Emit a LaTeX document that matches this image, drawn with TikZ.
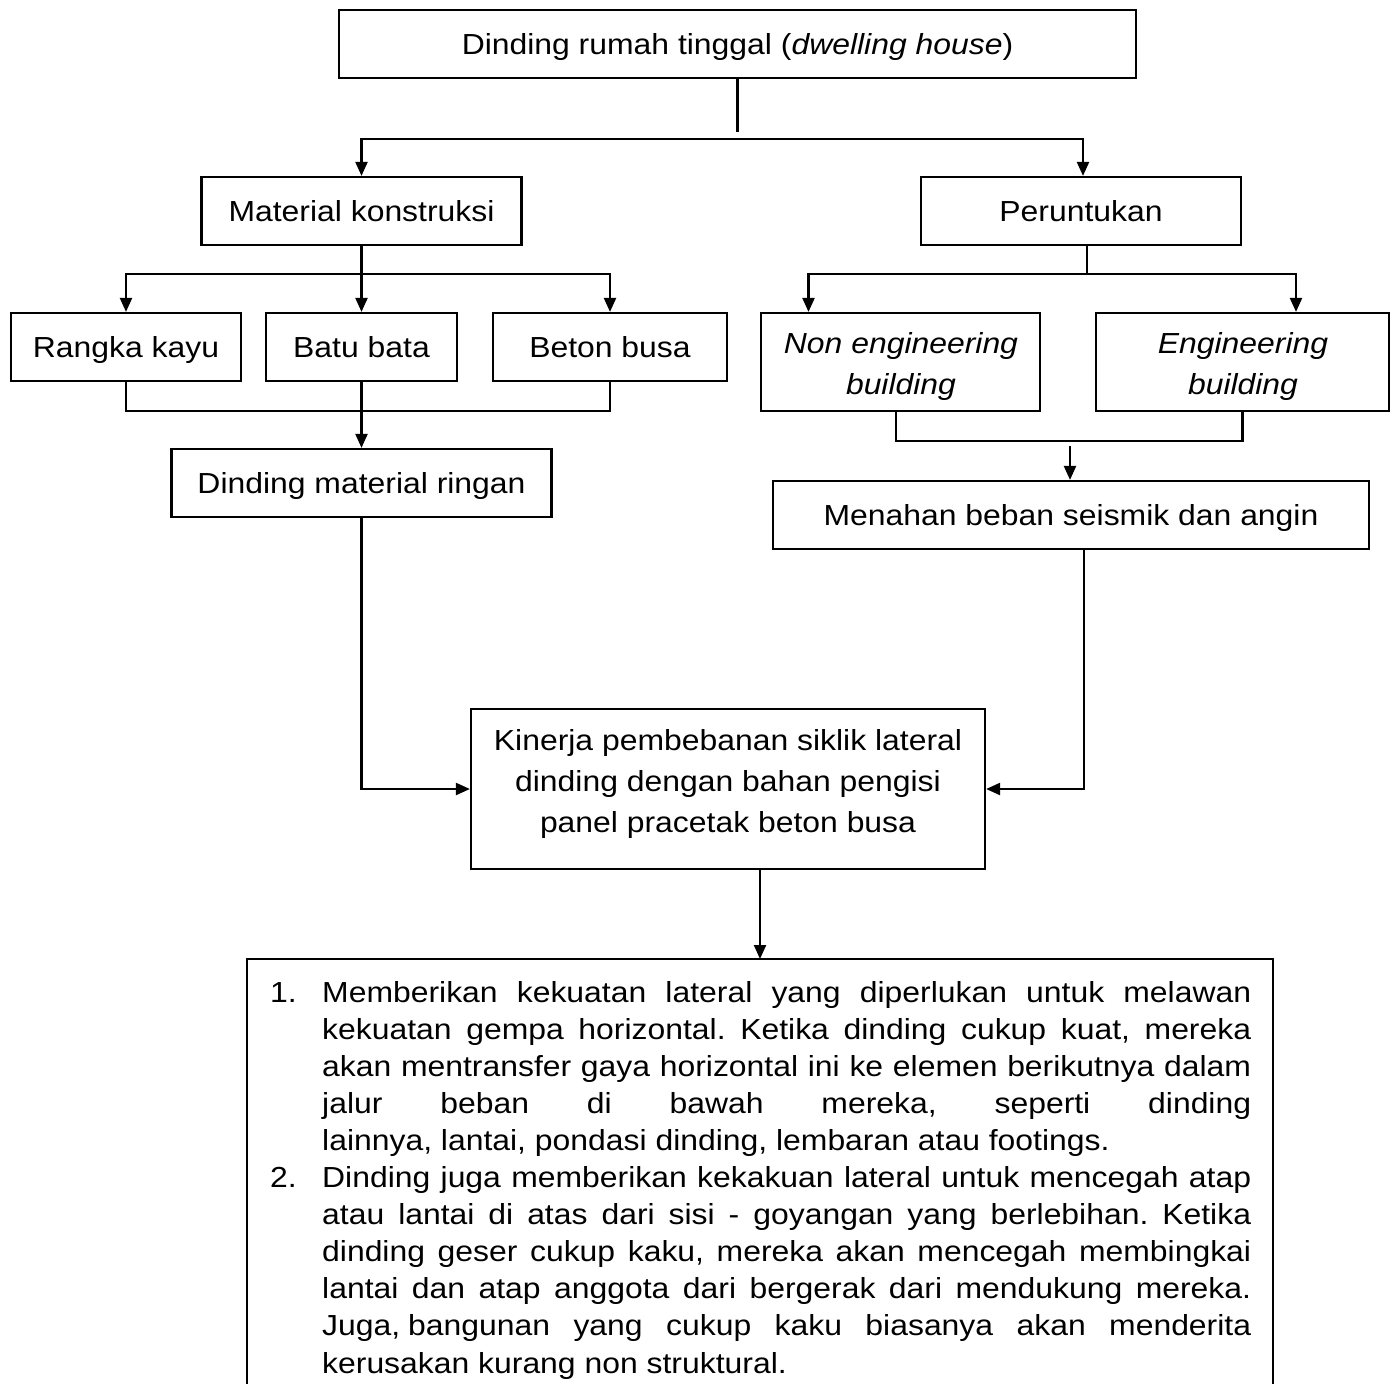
\documentclass[tikz,border=0pt]{standalone}
\usepackage{fontspec}
\setmainfont{Liberation Sans}[FakeStretch=1.1]
\usetikzlibrary{arrows.meta}
\frenchspacing
\tikzset{
  box/.style={draw, line width=2.2pt, inner sep=0pt, minimum height=68pt,
    text height=20.8pt, text depth=0pt, font=\fontsize{29pt}{37pt}\selectfont},
  tall/.style={draw, line width=2.2pt, inner sep=0pt},
  lbl/.style={inner sep=0pt, anchor=base, font=\fontsize{29pt}{41pt}\selectfont},
  conn/.style={line width=2.2pt},
  arr/.style={line width=2.2pt, -{Triangle[length=14pt,width=12pt]}},
}
\begin{document}
\frenchspacing
\begin{tikzpicture}[x=1pt,y=-1pt]
\useasboundingbox (0,0) rectangle (1395,1384);
% boxes
\node[box, minimum width=797pt] (top) at (737.5,44) {Dinding rumah tinggal (\textit{dwelling house})};
\node[box, minimum width=320pt] (mat) at (361.5,211) {Material konstruksi};
\node[box, minimum width=320pt] (per) at (1081,211) {Peruntukan};
\node[box, minimum width=230pt] (rk) at (126,347) {Rangka kayu};
\node[box, minimum width=191pt] (bb) at (361.5,347) {Batu bata};
\node[box, minimum width=234pt] (bz) at (610,347) {Beton busa};
\node[box, minimum width=380pt] (dmr) at (361.5,483) {Dinding material ringan};
\node[tall, minimum width=279pt, minimum height=98pt] (ne) at (900.5,362) {};
\node[lbl] (ne-t) at (901,353) {\parbox[t]{279pt}{\centering\itshape Non engineering\\building}};
\node[tall, minimum width=293pt, minimum height=98pt] (eb) at (1242.5,362) {};
\node[lbl] (eb-t) at (1243,353) {\parbox[t]{293pt}{\centering\itshape Engineering\\building}};
\node[box, minimum width=596pt] (mb) at (1071,515) {Menahan beban seismik dan angin};
\node[tall, minimum width=514pt, minimum height=160pt] (kin) at (728,789) {};
\node[lbl] (kin-t) at (728,750) {\parbox[t]{514pt}{\centering Kinerja pembebanan siklik lateral\\dinding dengan bahan pengisi\\panel pracetak beton busa}};
% result box (open at the bottom)
\node[minimum width=1026pt, minimum height=460pt, inner sep=0pt, anchor=north] (res) at (760,959) {};
\draw[conn] (res.south west) -- (res.north west) -- (res.north east) -- (res.south east);
\node[inner sep=0pt, anchor=base west, font=\fontsize{29pt}{37.1pt}\selectfont] (res-t) at (322,1002) {\parbox[t]{929pt}{\frenchspacing
\makebox[929pt][s]{\llap{\makebox[52pt][l]{1.}}Memberikan kekuatan lateral yang diperlukan untuk melawan}\\
\makebox[929pt][s]{kekuatan gempa horizontal. Ketika dinding cukup kuat, mereka}\\
\makebox[929pt][s]{akan mentransfer gaya horizontal ini ke elemen berikutnya dalam}\\
\makebox[929pt][s]{jalur beban di bawah mereka, seperti dinding}\\
lainnya, lantai, pondasi dinding, lembaran atau footings.\\
\makebox[929pt][s]{\llap{\makebox[52pt][l]{2.}}Dinding juga memberikan kekakuan lateral untuk mencegah atap}\\
\makebox[929pt][s]{atau lantai di atas dari sisi - goyangan yang berlebihan. Ketika}\\
\makebox[929pt][s]{dinding geser cukup kaku, mereka akan mencegah membingkai}\\
\makebox[929pt][s]{lantai dan atap anggota dari bergerak dari mendukung mereka.}\\
\makebox[929pt][s]{Juga,\hspace{8pt}bangunan yang cukup kaku biasanya akan menderita}\\
kerusakan kurang non struktural.}};
% connectors
\draw[conn] (top.south) -- ++(0,53);
\coordinate (j1) at (739,139);
\draw[arr] (j1) -| (mat.north);
\draw[arr] (j1) -| ([xshift=2pt]per.north);
\coordinate (j2) at (361.5,274);
\draw[conn] (mat.south) -- (j2);
\draw[arr] (j2) -| (rk.north);
\draw[arr] (j2) -| (bz.north);
\draw[arr] (j2) -- (bb.north);
\coordinate (j3) at (361.5,411);
\draw[conn] (rk.south) |- (j3) -| (bz.south);
\draw[arr] (bb.south) -- (dmr.north);
\draw[arr] (dmr.south) |- (kin.west);
\coordinate (j4) at (1087,274);
\draw[conn] ([xshift=6pt]per.south) -- (j4);
\draw[arr] (j4) -| ([xshift=-92pt]ne.north);
\draw[arr] (j4) -| ([xshift=53.5pt]eb.north);
\coordinate (j5) at (1070,441);
\draw[conn] ([xshift=-4.5pt]ne.south) |- (j5) -| (eb.south);
\draw[arr] ([yshift=-5pt]j5) -- (j5 |- mb.north);
\draw[arr] ([xshift=13pt]mb.south) |- (kin.east);
\draw[arr] (kin.south -| res.north) -- (res.north);
\end{tikzpicture}
\end{document}
